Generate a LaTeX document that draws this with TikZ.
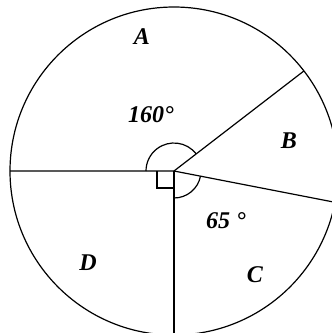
\documentclass[tikz,border=0pt]{standalone}
\usepackage{fontspec}
\setmainfont{Liberation Serif}
\usetikzlibrary{calc}
\begin{document}
\begin{tikzpicture}[x=1pt,y=-1pt,
  lab/.style={font=\fontsize{24}{24}\selectfont\bfseries\itshape, inner sep=0pt},
  ln/.style={line width=1.2pt, black}]
\useasboundingbox (0,0) rectangle (332,333);
\clip (0,0) rectangle (332,333);
\def\R{164}
\coordinate (O) at (174,171);
\coordinate (L) at ($(O)+(180:\R)$);
\coordinate (Bt) at ($(O)+(-37.6:\R)$);
\coordinate (Ct) at ($(O)+(11:\R)$);
\coordinate (Dn) at ($(O)+(90:\R)$);
\draw[ln] (O) circle[radius=\R];
\draw[ln] (L) -- (O) -- (Bt);
\draw[ln] (O) -- (Ct);
\draw[ln] (O) -- (Dn);
\draw[ln] ($(O)+(-37.6:28)$) arc[start angle=-37.6, end angle=-180, radius=28];
\draw[ln] ($(O)+(90:27)$) arc[start angle=90, end angle=11, radius=27];
\draw[ln] ($(O)+(-17,0)$) -- ++(0,17) -- ++(17,0);
\node[lab] (a) at (142,37) {A};
\node[lab] (b) at (289,141) {B};
\node[lab] (c) at (255,275) {C};
\node[lab] (d) at (88,263) {D};
\node[lab] (ang1) at (151,115) {160°};
\node[lab] (ang2) at (226,221) {65 °};
\end{tikzpicture}
\end{document}
